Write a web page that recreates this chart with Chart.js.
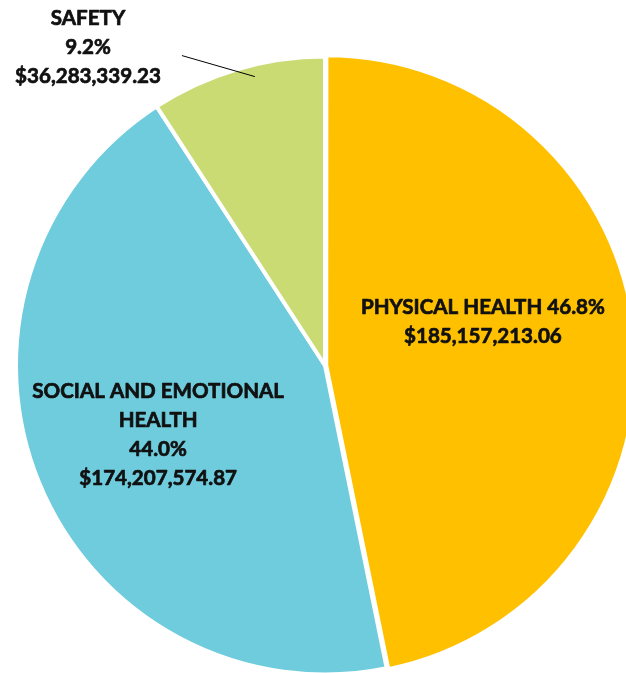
<!DOCTYPE html>
<html>
<head>
<meta charset="utf-8">
<title>Funding by category</title>
<script src="https://cdn.jsdelivr.net/npm/chart.js@4.4.0/dist/chart.umd.min.js"></script>
<style>
    html, body { margin: 0; padding: 0; background: #fff; overflow: hidden; }
    .chart-wrap { position: absolute; left: 0; top: 0; width: 650px; height: 700px; }
</style>
</head>
<body>
<div class="chart-wrap"><canvas id="pieChart"></canvas></div>
<script>
// Data
const categories = ['PHYSICAL HEALTH', 'SOCIAL AND EMOTIONAL HEALTH', 'SAFETY'];
const amounts = [185157213.06, 174207574.87, 36283339.23];
const percents = ['46.8%', '44.0%', '9.2%'];
const amountText = ['$185,157,213.06', '$174,207,574.87', '$36,283,339.23'];
const sliceColors = ['#FFC000', '#6FCCDD', '#C9DB72'];

// How each label is broken into lines
const labelLines = [
    [categories[0] + ' ' + percents[0], amountText[0]],
    ['SOCIAL AND EMOTIONAL', 'HEALTH', percents[1], amountText[1]],
    [categories[2], percents[2], amountText[2]]
];
// label block centre, in units of the pie radius from the pie centre
const labelAnchor = [[0.511, -0.140], [-0.540, 0.226], [-0.767, -1.030]];

const FONT = '"Lato", "Liberation Sans", sans-serif';

const pieLabels = {
    id: 'pieLabels',
    afterDatasetsDraw(chart) {
        const ctx = chart.ctx;
        const arcs = chart.getDatasetMeta(0).data;
        if (!arcs.length) return;
        const cx = arcs[2].x, cy = arcs[2].y, r = arcs[2].outerRadius;

        // size the font so the physical health line is as wide as in the reference
        ctx.save();
        ctx.font = 'bold 20px ' + FONT;
        const size = 20 * 244 / ctx.measureText(labelLines[0][0]).width;
        ctx.font = 'bold ' + size.toFixed(2) + 'px ' + FONT;
        ctx.fillStyle = '#111';
        ctx.strokeStyle = '#111';
        ctx.lineWidth = 0.7;
        ctx.lineJoin = 'round';
        ctx.textAlign = 'center';
        ctx.textBaseline = 'middle';
        const lh = 29;

        labelLines.forEach((lines, i) => {
            const x = cx + labelAnchor[i][0] * r;
            const y0 = cy + labelAnchor[i][1] * r - (lines.length - 1) * lh / 2;
            lines.forEach((t, j) => {
                ctx.fillText(t, x, y0 + j * lh);
                ctx.strokeText(t, x, y0 + j * lh);
            });
        });

        // leader line for the safety label
        ctx.strokeStyle = '#000';
        ctx.lineWidth = 1;
        ctx.beginPath();
        ctx.moveTo(cx - 0.227 * r, cy - 0.935 * r);
        ctx.lineTo(cx - 0.463 * r, cy - 1.003 * r);
        ctx.stroke();
        ctx.restore();
    }
};

new Chart(document.getElementById('pieChart'), {
    type: 'pie',
    data: {
        labels: categories,
        datasets: [{
            data: amounts,
            backgroundColor: sliceColors,
            borderColor: '#fff',
            borderWidth: 4,
            offset: [5, 0, 0]
        }]
    },
    options: {
        responsive: true,
        maintainAspectRatio: false,
        animation: false,
        rotation: 0,
        layout: { padding: { left: 11.5, right: 11.5, top: 52, bottom: 21 } },
        plugins: {
            legend: { display: false },
            tooltip: { enabled: false }
        }
    },
    plugins: [pieLabels]
});
</script>
</body>
</html>
